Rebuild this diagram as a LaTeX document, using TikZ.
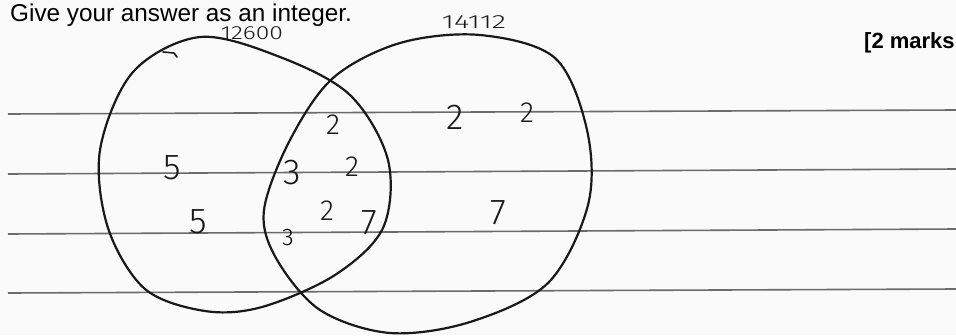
\documentclass[tikz,border=0pt]{standalone}
\usepackage{fontspec}
\setmainfont{Liberation Sans}
\newfontfamily\handfont{Fira Sans}[UprightFont={* Light}]
\tikzset{
  rule/.style={draw=black!58, line width=1.6pt},
  pen/.style={draw=black!90, line width=2.2pt, line join=round, line cap=round},
  digit/.style={font=\handfont\fontsize{36}{36}\selectfont, inner sep=0pt, text=black!90},
  digitsm/.style={font=\handfont\fontsize{29}{29}\selectfont, inner sep=0pt, text=black!90},
  label/.style={font=\handfont\fontsize{19}{19}\selectfont, inner sep=0pt, text=black!90}
}
\begin{document}
\begin{tikzpicture}[x=1pt,y=-1pt]
\useasboundingbox[fill=black!2] (0,0) rectangle (956,335);
% ruled lines
\foreach \yl/\yr in {114/110, 174/169, 234/229, 293/289}
  \draw[rule] (8,\yl) -- (956,\yr);
% printed text
\node[anchor=base west, inner sep=0pt, font=\fontsize{24.3}{24.3}\selectfont] (q) at (10,21) {Give your answer as an integer.};
\node[anchor=base west, inner sep=0pt, font=\bfseries\fontsize{22}{22}\selectfont] (marks) at (864,48) {[2 marks};
% set A
\draw[pen] plot[smooth cycle, tension=0.55] coordinates {(200,37) (280,57) (350,95) (388,160) (383,228) (335,275) (262,307) (205,311) (145,289) (108,228) (100,150) (133,72)};
\draw[pen, line width=1.6pt] (163,52) -- (174,53) -- (177,57);
% set B
\draw[pen] plot[smooth cycle, tension=0.55] coordinates {(333,78) (400,43) (480,35) (555,58) (587,130) (588,205) (548,283) (470,322) (390,333) (320,310) (276,258) (264,210) (290,140)};
% handwritten labels
\node[label, xscale=1.3, transform shape] (la) at (252,33) {12600};
\node[label, xscale=1.55, transform shape] (lb) at (474,22) {14112};
\node[digit] (a1) at (172,168) {5};
\node[digit] (a2) at (198,222) {5};
\node[digitsm] (c1) at (333,125) {2};
\node[digit] (c2) at (292,173) {3};
\node[digitsm] (c3) at (352,167) {2};
\node[digitsm] (c4) at (327,211) {2};
\node[digit] (c5) at (369,223) {7};
\node[font=\handfont\fontsize{24}{24}\selectfont, inner sep=0pt] (c6) at (288,238) {3};
\node[digit] (b1) at (455,117) {2};
\node[digitsm] (b2) at (527,113) {2};
\node[digit] (b3) at (498,213) {7};
\end{tikzpicture}
\end{document}
